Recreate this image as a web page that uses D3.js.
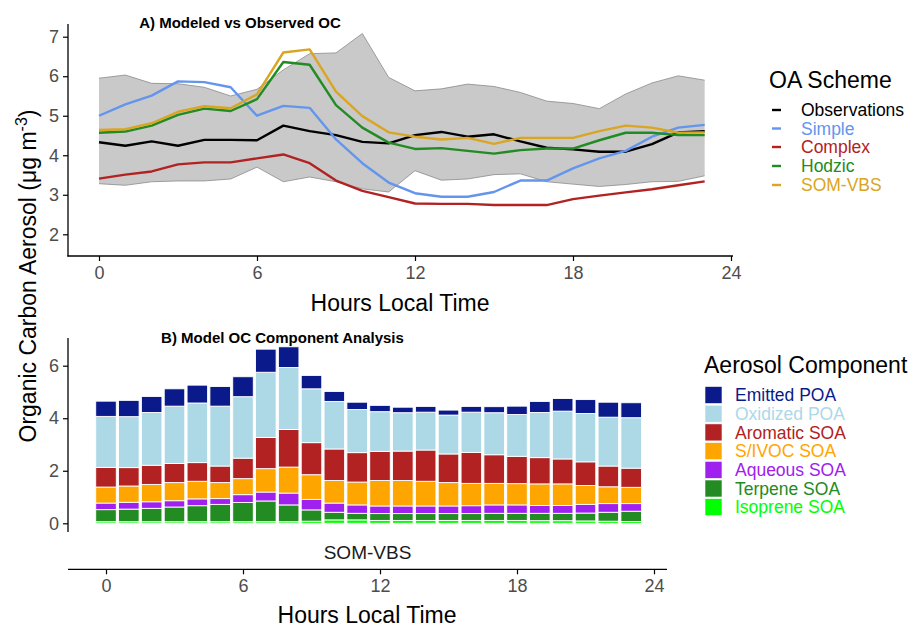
<!DOCTYPE html>
<html>
<head>
<meta charset="utf-8">
<script src="https://cdn.jsdelivr.net/npm/d3@7"></script>
<style>
  html, body { margin: 0; padding: 0; background: #ffffff; }
  svg { display: block; font-family: "Liberation Sans", Arial, Helvetica, sans-serif; }
</style>
</head>
<body>
<svg id="chart" width="918" height="631"></svg>
<script>
// ---------- DATA ----------
const hours = d3.range(0, 24);
const hourTicks = [0, 6, 12, 18, 24];
const topYTicks = [2, 3, 4, 5, 6, 7];
const botYTicks = [0, 2, 4, 6];

// Panel A: observed OC and modeled schemes (ug m-3)
const obs     = [4.33,4.24,4.35,4.24,4.39,4.39,4.38,4.75,4.61,4.51,4.34,4.30,4.51,4.59,4.47,4.53,4.35,4.19,4.15,4.09,4.09,4.28,4.58,4.61];
const obsHigh = [5.95,6.03,5.82,5.81,5.72,5.50,5.67,6.16,6.57,6.59,7.08,5.97,5.63,5.68,5.80,5.74,5.59,5.37,5.31,5.18,5.55,5.83,6.01,5.90];
const obsLow  = [3.28,3.24,3.33,3.35,3.35,3.40,3.70,3.33,3.45,3.33,3.15,3.07,3.61,3.37,3.40,3.51,3.53,3.33,3.27,3.21,3.26,3.33,3.34,3.48];
const simple  = [5.00,5.29,5.51,5.87,5.85,5.72,5.00,5.25,5.20,4.40,3.80,3.31,3.04,2.95,2.95,3.07,3.36,3.36,3.67,3.92,4.11,4.47,4.70,4.77];
const complex = [3.41,3.51,3.59,3.77,3.82,3.82,3.92,4.02,3.80,3.36,3.10,2.94,2.78,2.77,2.77,2.74,2.74,2.74,2.89,2.98,3.06,3.14,3.24,3.34];
const hodzic  = [4.57,4.60,4.75,5.02,5.18,5.12,5.42,6.36,6.29,5.27,4.70,4.32,4.16,4.18,4.11,4.04,4.13,4.17,4.17,4.38,4.57,4.57,4.51,4.51];
const somvbs  = [4.64,4.66,4.81,5.10,5.24,5.19,5.54,6.60,6.68,5.61,4.99,4.58,4.47,4.40,4.44,4.29,4.44,4.44,4.44,4.61,4.75,4.70,4.57,4.58];

const schemeNames  = ["Observations", "Simple", "Complex", "Hodzic", "SOM-VBS"];
const schemeColors = ["#000000", "#6495ED", "#B22222", "#228B22", "#DAA520"];

// Panel B: SOM-VBS component breakdown (ug m-3)
const isopreneSOA = [0.06,0.06,0.06,0.06,0.06,0.06,0.06,0.06,0.06,0.08,0.13,0.13,0.11,0.11,0.11,0.11,0.11,0.11,0.11,0.10,0.10,0.09,0.08,0.07];
const terpeneSOA  = [0.46,0.48,0.51,0.56,0.61,0.66,0.73,0.79,0.64,0.43,0.29,0.25,0.26,0.26,0.26,0.26,0.26,0.27,0.27,0.28,0.28,0.30,0.34,0.39];
const aqueousSOA  = [0.25,0.26,0.25,0.24,0.26,0.22,0.30,0.34,0.45,0.40,0.35,0.32,0.29,0.29,0.29,0.29,0.30,0.32,0.32,0.30,0.30,0.33,0.33,0.29];
const sivocSOA    = [0.61,0.62,0.66,0.69,0.67,0.61,0.61,0.89,0.99,0.94,0.86,0.87,0.97,0.97,0.94,0.89,0.85,0.82,0.81,0.82,0.82,0.72,0.64,0.62];
const aromaticSOA = [0.75,0.70,0.73,0.73,0.71,0.63,0.78,1.19,1.43,1.22,1.20,1.12,1.11,1.12,1.19,1.09,1.18,1.09,1.04,1.00,0.95,0.90,0.79,0.73];
const oxidizedPOA = [1.94,1.94,2.01,2.18,2.27,2.28,2.34,2.48,2.36,2.05,1.81,1.64,1.51,1.46,1.44,1.48,1.53,1.60,1.59,1.72,1.82,1.84,1.86,1.92];
const emittedPOA  = [0.58,0.62,0.61,0.66,0.68,0.75,0.76,0.88,0.79,0.51,0.38,0.28,0.24,0.21,0.22,0.19,0.22,0.23,0.32,0.42,0.48,0.53,0.57,0.57];

const componentNames  = ["Emitted POA", "Oxidized POA", "Aromatic SOA", "S/IVOC SOA", "Aqueous SOA", "Terpene SOA", "Isoprene SOA"];
const componentColors = ["#0a1a8a", "#ADD8E6", "#B22222", "#FFA500", "#A020F0", "#228B22", "#00FF00"];
const componentSeries = [emittedPOA, oxidizedPOA, aromaticSOA, sivocSOA, aqueousSOA, terpeneSOA, isopreneSOA];

// ---------- DRAW ----------
const svg = d3.select("#chart");
const tickGray = "#4d4d4d";

// ===== Panel A =====
const xA = d3.scaleLinear().domain([0, 24]).range([99, 731]);
const yA = d3.scaleLinear().domain([2, 7]).range([234.3, 36.7]);

const gA = svg.append("g");

// ribbon
const ribbonData = hours.map((h, i) => ({ h, lo: obsLow[i], hi: obsHigh[i] }));
gA.append("path")
  .datum(ribbonData)
  .attr("fill", "#c9c9c9")
  .attr("stroke", "none")
  .attr("d", d3.area().x(d => xA(d.h)).y0(d => yA(d.lo)).y1(d => yA(d.hi)));
gA.append("path").datum(ribbonData)
  .attr("fill", "none").attr("stroke", "#8a8a8a").attr("stroke-width", 0.8)
  .attr("d", d3.line().x(d => xA(d.h)).y(d => yA(d.hi)));
gA.append("path").datum(ribbonData)
  .attr("fill", "none").attr("stroke", "#8a8a8a").attr("stroke-width", 0.8)
  .attr("d", d3.line().x(d => xA(d.h)).y(d => yA(d.lo)));

// lines (draw order: obs first, then models)
const schemeSeries = [obs, simple, complex, hodzic, somvbs];
const lineGen = d3.line().x((d, i) => xA(hours[i])).y(d => yA(d));
schemeSeries.forEach((s, k) => {
  gA.append("path")
    .datum(s)
    .attr("fill", "none")
    .attr("stroke", schemeColors[k])
    .attr("stroke-width", 2.4)
    .attr("stroke-linejoin", "round")
    .attr("d", lineGen);
});

// axes A
const axAY = gA.append("g").attr("transform", "translate(68,0)")
  .call(d3.axisLeft(yA).tickValues(topYTicks).tickSize(5).tickPadding(4).tickFormat(d3.format("d")));
const axAX = gA.append("g").attr("transform", "translate(0,256)")
  .call(d3.axisBottom(xA).tickValues(hourTicks).tickSize(5).tickPadding(5).tickFormat(d3.format("d")));
[axAY, axAX].forEach(ax => {
  ax.select(".domain").remove();
  ax.selectAll(".tick line").attr("stroke", "#000").attr("stroke-width", 1.2);
  ax.selectAll(".tick text").attr("fill", tickGray).style("font-size", "18px")
    .style("font-family", "'Liberation Sans', Arial, sans-serif");
});
gA.append("line").attr("x1", 68).attr("x2", 68).attr("y1", 24).attr("y2", 256.6)
  .attr("stroke", "#000").attr("stroke-width", 1.3);
gA.append("line").attr("x1", 67.4).attr("x2", 733).attr("y1", 256).attr("y2", 256)
  .attr("stroke", "#000").attr("stroke-width", 1.3);

gA.append("text").attr("x", 240).attr("y", 23).attr("dy", "0.35em")
  .attr("text-anchor", "middle").style("font-size", "15px").style("font-weight", "bold")
  .text("A) Modeled vs Observed OC");
gA.append("text").attr("x", 400).attr("y", 303).attr("dy", "0.35em")
  .attr("text-anchor", "middle").style("font-size", "23px").text("Hours Local Time");

// legend A
const legA = svg.append("g");
legA.append("text").attr("x", 769).attr("y", 80).attr("dy", "0.35em")
  .style("font-size", "23px").text("OA Scheme");
const legAY = [110, 128.5, 147, 166, 185];
schemeNames.forEach((n, k) => {
  legA.append("line").attr("x1", 772).attr("x2", 781).attr("y1", legAY[k]).attr("y2", legAY[k])
    .attr("stroke", schemeColors[k]).attr("stroke-width", 2.4);
  legA.append("text").attr("x", 801).attr("y", legAY[k]).attr("dy", "0.35em")
    .style("font-size", "17.5px").attr("fill", schemeColors[k]).text(n);
});

// ===== Panel B =====
const xB = d3.scaleLinear().domain([0, 24]).range([106, 654]);
const yB = d3.scaleLinear().domain([0, 6]).range([523.3, 365.7]);
const barW = 0.9 * (xB(1) - xB(0));

const rows = hours.map((h, i) => {
  const r = { hour: h };
  componentNames.forEach((n, k) => { r[n] = componentSeries[k][i]; });
  return r;
});
const stackKeys = componentNames.slice().reverse(); // bottom: Isoprene
const stacked = d3.stack().keys(stackKeys)(rows);

const gB = svg.append("g");
stacked.forEach(layer => {
  const color = componentColors[componentNames.indexOf(layer.key)];
  gB.append("g").selectAll("rect")
    .data(layer)
    .join("rect")
    .attr("x", d => xB(d.data.hour) - barW / 2)
    .attr("width", barW)
    .attr("y", d => yB(d[1]))
    .attr("height", d => yB(d[0]) - yB(d[1]))
    .attr("fill", color)
    .attr("stroke", "#ffffff")
    .attr("stroke-width", 0.9);
});

const axBY = gB.append("g").attr("transform", "translate(68,0)")
  .call(d3.axisLeft(yB).tickValues(botYTicks).tickSize(5).tickPadding(4).tickFormat(d3.format("d")));
const axBX = gB.append("g").attr("transform", "translate(0,569.3)")
  .call(d3.axisBottom(xB).tickValues(hourTicks).tickSize(5).tickPadding(5).tickFormat(d3.format("d")));
[axBY, axBX].forEach(ax => {
  ax.select(".domain").remove();
  ax.selectAll(".tick line").attr("stroke", "#000").attr("stroke-width", 1.2);
  ax.selectAll(".tick text").attr("fill", tickGray).style("font-size", "18px")
    .style("font-family", "'Liberation Sans', Arial, sans-serif");
});
gB.append("line").attr("x1", 68).attr("x2", 68).attr("y1", 338).attr("y2", 532)
  .attr("stroke", "#000").attr("stroke-width", 1.3);
gB.append("line").attr("x1", 68).attr("x2", 667).attr("y1", 569.3).attr("y2", 569.3)
  .attr("stroke", "#000").attr("stroke-width", 1.3);

gB.append("text").attr("x", 282.5).attr("y", 338).attr("dy", "0.35em")
  .attr("text-anchor", "middle").style("font-size", "15px").style("font-weight", "bold")
  .text("B) Model OC Component Analysis");
gB.append("text").attr("x", 367.5).attr("y", 552).attr("dy", "0.35em")
  .attr("text-anchor", "middle").style("font-size", "19px").attr("fill", "#1a1a1a").text("SOM-VBS");
gB.append("text").attr("x", 367).attr("y", 615).attr("dy", "0.35em")
  .attr("text-anchor", "middle").style("font-size", "23px").text("Hours Local Time");

// legend B
const legB = svg.append("g");
legB.append("text").attr("x", 704).attr("y", 365).attr("dy", "0.35em")
  .style("font-size", "23px").text("Aerosol Component");
componentNames.forEach((n, k) => {
  const cy = 395 + k * 18.7;
  legB.append("rect").attr("x", 705).attr("y", cy - 8.5).attr("width", 17).attr("height", 17)
    .attr("fill", componentColors[k]).attr("stroke", "#ffffff").attr("stroke-width", 0.6);
  legB.append("text").attr("x", 735).attr("y", cy).attr("dy", "0.35em")
    .style("font-size", "17.5px").attr("fill", componentColors[k]).text(n);
});

// shared y-axis title
svg.append("text")
  .attr("transform", "translate(28,276) rotate(-90)")
  .attr("text-anchor", "middle")
  .attr("dy", "0.35em")
  .style("font-size", "23px")
  .html('Organic Carbon Aerosol (μg m<tspan dy="-9" font-size="16px">-3</tspan><tspan dy="9">)</tspan>');
</script>
</body>
</html>
